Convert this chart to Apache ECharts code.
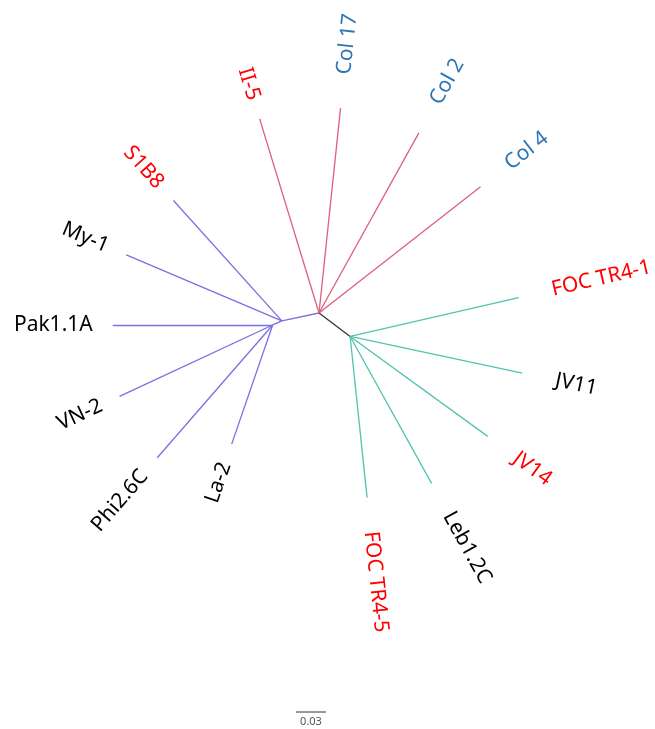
<!DOCTYPE html>
<html style="height: 100%">
<head>
    <meta charset="utf-8">
</head>
<body style="height: 100%; margin: 0; background: #fff">
<div id="tree_container" style="height: 729px; width: 655px"></div>
<script src="https://cdn.jsdelivr.net/npm/echarts@6/dist/echarts.min.js"></script>
<script type="text/javascript">
    // unrooted tree, branch lengths in substitutions/site, angles in degrees (0 = right, ccw)
    var nodeNames = ['B', 'B2', 'C', 'II-5', 'Col 17', 'Col 2', 'Col 4', 'S1B8', 'My-1', 'Pak1.1A', 'VN-2', 'Phi2.6C', 'La-2', 'FOC TR4-1', 'JV11', 'JV14', 'Leb1.2C', 'FOC TR4-5'];
    var nodeParents = ['R', 'B', 'R', 'R', 'R', 'R', 'R', 'B', 'B', 'B2', 'B2', 'B2', 'B2', 'C', 'C', 'C', 'C', 'C'];
    var branchLengths = [0.038, 0.010, 0.039, 0.203, 0.206, 0.206, 0.205, 0.162, 0.169, 0.160, 0.169, 0.176, 0.126, 0.173, 0.176, 0.170, 0.168, 0.162];
    var branchAngles = [192, 204, 323, 107, 84, 61, 38, 132, 157, 180, 205, 229, 251, 13, 348, 324, 299, 276];
    var branchClade = ['blue', 'blue', 'hub', 'red', 'red', 'red', 'red', 'blue', 'blue', 'blue', 'blue', 'blue', 'blue', 'cyan', 'cyan', 'cyan', 'cyan', 'cyan'];
    // label colour group for each leaf: 'r' red, 'b' blue, 'k' black
    var leafGroup = {'II-5': 'r', 'Col 17': 'b', 'Col 2': 'b', 'Col 4': 'b', 'S1B8': 'r', 'My-1': 'k', 'Pak1.1A': 'k', 'VN-2': 'k', 'Phi2.6C': 'k', 'La-2': 'k',
        'FOC TR4-1': 'r', 'JV11': 'k', 'JV14': 'r', 'Leb1.2C': 'k', 'FOC TR4-5': 'r'};
    var scaleBarValue = 0.03;

    var cladeColors = {red: '#de5f7c', blue: '#7a70e2', cyan: '#52c3b0', hub: '#333333'};
    var textColors = {r: '#ff0000', b: '#2e75b6', k: '#000000'};

    // node positions from branch lengths
    var pos = {R: [0, 0]};
    nodeNames.forEach(function (name, i) {
        var p = pos[nodeParents[i]];
        var a = branchAngles[i] * Math.PI / 180;
        pos[name] = [p[0] + branchLengths[i] * Math.cos(a), p[1] + branchLengths[i] * Math.sin(a)];
    });

    var branchData = nodeNames.map(function (name, i) {
        return {
            coords: [pos[nodeParents[i]], pos[name]],
            lineStyle: {color: cladeColors[branchClade[i]]}
        };
    });

    var leafData = [];
    nodeNames.forEach(function (name, i) {
        if (leafGroup[name]) leafData.push([pos[name][0], pos[name][1], i]);
    });

    var dom = document.getElementById('tree_container');
    var myChart = echarts.init(dom);

    var option = {
        backgroundColor: '#fff',
        animation: false,
        grid: {left: 0, right: 0, top: 0, bottom: 0},
        xAxis: {type: 'value', min: -0.319, max: 0.336, show: false},
        yAxis: {type: 'value', min: -0.416, max: 0.313, show: false},
        series: [
            {
                type: 'lines',
                coordinateSystem: 'cartesian2d',
                silent: true,
                lineStyle: {width: 1.3, opacity: 1, curveness: 0},
                data: branchData
            },
            {
                // leaf labels, rotated along their branch
                type: 'custom',
                coordinateSystem: 'cartesian2d',
                silent: true,
                data: leafData,
                renderItem: function (params, api) {
                    var i = api.value(2);
                    var name = nodeNames[i];
                    var pt = api.coord([api.value(0), api.value(1)]);
                    var ang = branchAngles[i];
                    var right = Math.cos(ang * Math.PI / 180) >= 0;
                    var rot = right ? (ang > 180 ? ang - 360 : ang) : ang - 180;
                    var gap = right ? 34 : 20;
                    return {
                        type: 'text',
                        x: pt[0],
                        y: pt[1],
                        rotation: rot * Math.PI / 180,
                        style: {
                            text: name,
                            x: right ? gap : -gap,
                            y: 0,
                            align: right ? 'left' : 'right',
                            verticalAlign: 'middle',
                            fill: textColors[leafGroup[name]],
                            fontSize: 21,
                            fontFamily: '"Noto Sans", sans-serif'
                        }
                    };
                }
            },
            {
                // scale bar
                type: 'custom',
                coordinateSystem: 'cartesian2d',
                silent: true,
                data: [[-0.023, -0.399, scaleBarValue]],
                renderItem: function (params, api) {
                    var p0 = api.coord([api.value(0), api.value(1)]);
                    var p1 = api.coord([api.value(0) + api.value(2), api.value(1)]);
                    return {
                        type: 'group',
                        children: [
                            {type: 'line', shape: {x1: p0[0], y1: p0[1], x2: p1[0], y2: p1[1]}, style: {stroke: '#333', lineWidth: 1}},
                            {type: 'text', x: (p0[0] + p1[0]) / 2, y: p0[1] + 4,
                                style: {text: String(api.value(2)), align: 'center', verticalAlign: 'top', fill: '#555', fontSize: 11, fontFamily: '"Noto Sans", sans-serif'}}
                        ]
                    };
                }
            }
        ]
    };

    if (option && typeof option === 'object') {
        myChart.setOption(option, true);
    }
</script>
</body>
</html>
